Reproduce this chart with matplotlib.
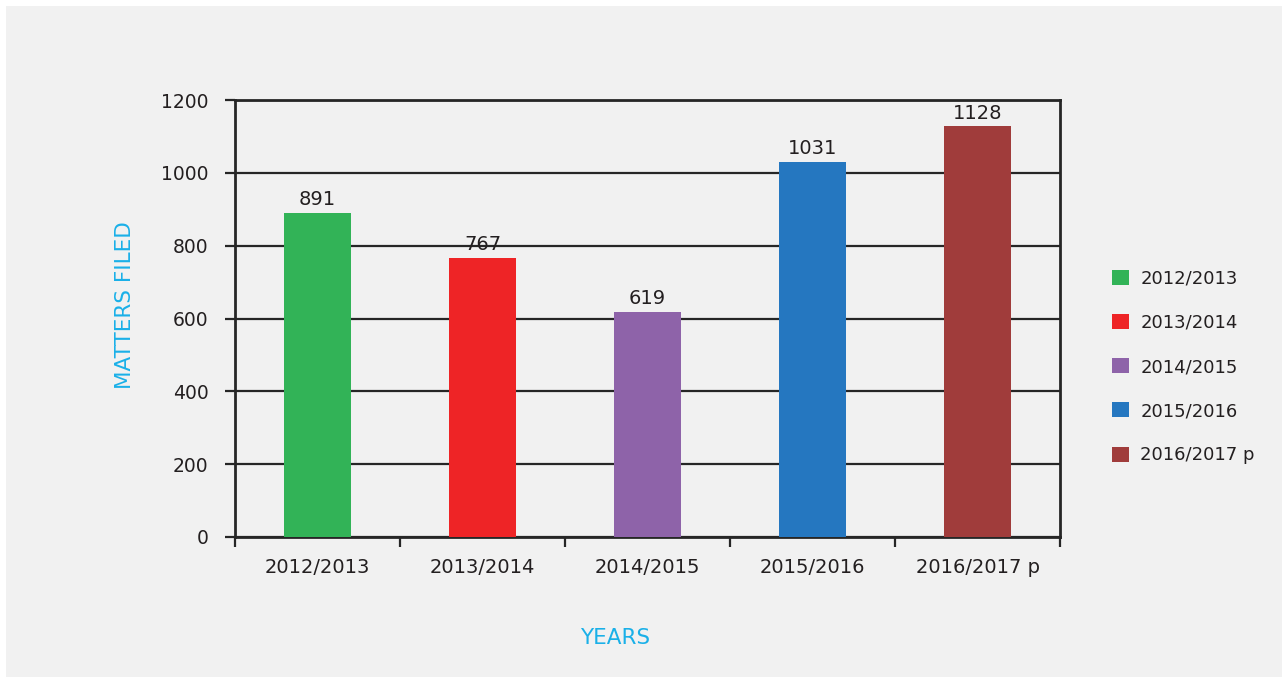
import matplotlib.pyplot as plt
from matplotlib.patches import Rectangle, Patch

years = ['2012/2013', '2013/2014', '2014/2015', '2015/2016', '2016/2017 p']
matters = [891, 767, 619, 1031, 1128]
colors = ['#32b357', '#ee2426', '#8e63a9', '#2577c0', '#a03c3b']

plt.rcParams['font.family'] = ['DejaVu Sans']
txt = '#231f20'
cyan = '#1ab0e8'

fig = plt.figure(figsize=(12.88, 6.83), dpi=100, facecolor='white')
fig.patches.append(Rectangle((6 / 1288, 6 / 683), 1276 / 1288, 671 / 683,
                             transform=fig.transFigure, facecolor='#f1f1f1',
                             edgecolor='none', zorder=-10))
ax = fig.add_axes([235 / 1288, 1 - 537 / 683, 825 / 1288, 437 / 683])
ax.set_facecolor('#f1f1f1')

x = range(len(years))
bars = ax.bar(x, matters, width=0.41, color=colors, zorder=3)
for b, v in zip(bars, matters):
    ax.text(b.get_x() + b.get_width() / 2, v + 10, str(v), ha='center', va='bottom',
            fontsize=14, color=txt, zorder=4)

ax.set_xlim(-0.5, len(years) - 0.5)
ax.set_ylim(0, 1200)
ax.set_yticks(range(0, 1201, 200))
ax.yaxis.grid(True, color='#262626', linewidth=1.6, zorder=0)
ax.set_xticks([i - 0.5 for i in range(len(years) + 1)])
ax.set_xticklabels([])
ax.set_xticks(list(x), minor=True)
ax.set_xticklabels(years, minor=True)
ax.tick_params(axis='x', which='minor', length=0, pad=15, labelsize=14, labelcolor=txt)
ax.tick_params(axis='x', which='major', length=7, width=1.6, color='#262626', direction='out')
ax.tick_params(axis='y', length=7, width=1.6, color='#262626', pad=12, labelsize=13.5, labelcolor=txt)
for s in ax.spines.values():
    s.set_color('#262626')
    s.set_linewidth(2)

fig.text(125 / 1288, 1 - 305 / 683, 'MATTERS FILED', color=cyan, fontsize=15.5,
         rotation=90, ha='center', va='center')
fig.text(615 / 1288, 1 - 638 / 683, 'YEARS', color=cyan, fontsize=15.5, ha='center', va='center')

handles = [Patch(facecolor=c, edgecolor='none') for c in colors]
fig.legend(handles, years, loc='center left', bbox_to_anchor=(1096 / 1288, 1 - 367 / 683),
           frameon=False, fontsize=13, handlelength=0.9, handleheight=0.9,
           labelspacing=1.45, handletextpad=0.65, labelcolor=txt)

fig.savefig('out.png', dpi=100, facecolor=fig.get_facecolor())
